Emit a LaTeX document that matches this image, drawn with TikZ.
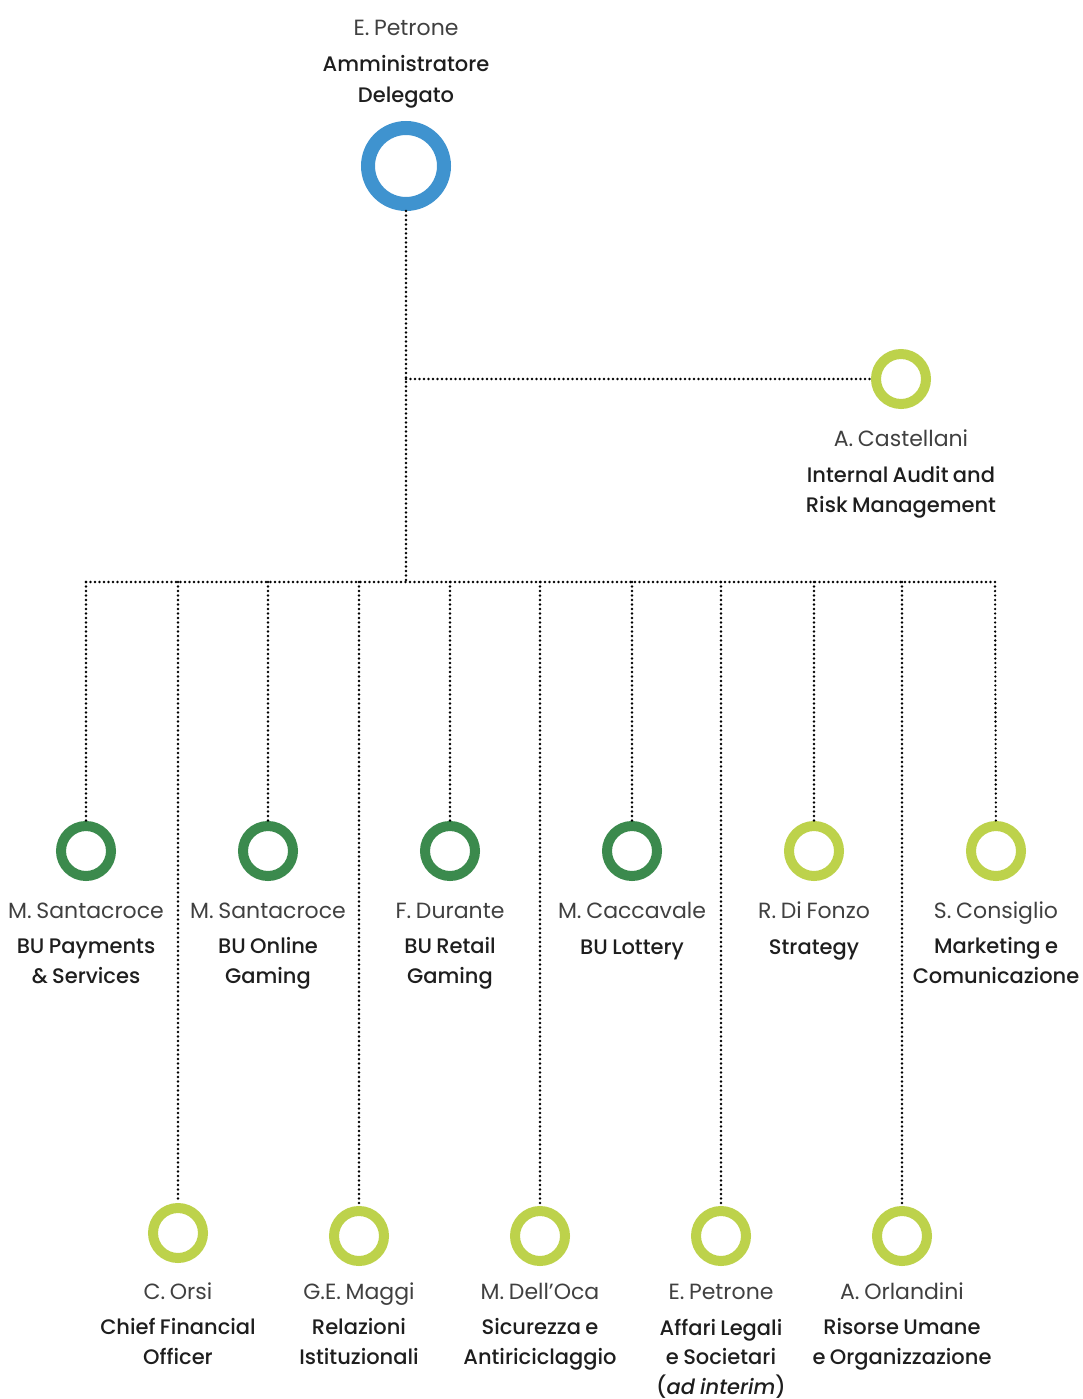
\documentclass[tikz,border=0pt]{standalone}
\usepackage{fontspec}
\setmainfont{Poppins}[BoldFont={Poppins Medium},ItalicFont={Poppins Italic},BoldItalicFont={Poppins Medium Italic},WordSpace=0.8]
\definecolor{ringblue}{HTML}{3F93CF}
\definecolor{ringdark}{HTML}{3B8A4D}
\definecolor{ringlight}{HTML}{BDD24B}
\definecolor{nametext}{HTML}{404040}
\definecolor{titletext}{HTML}{1E1E1E}
\begin{document}
\begin{tikzpicture}[x=1pt,y=-1pt,
  bigring/.style={circle,draw=ringblue,line width=14pt,minimum size=76pt,inner sep=0pt},
  darkring/.style={circle,draw=ringdark,line width=10pt,minimum size=50pt,inner sep=0pt},
  lightring/.style={circle,draw=ringlight,line width=10pt,minimum size=50pt,inner sep=0pt},
  link/.style={line width=2.6pt,line cap=round,dash pattern=on 0pt off 4.5pt,black},
  nm/.style={anchor=base,inner sep=0pt,font=\fontsize{22}{29}\selectfont,text=nametext},
  tt/.style={anchor=base,inner sep=0pt,align=center,font=\fontsize{21}{29.5}\selectfont\bfseries,text=titletext}]
\useasboundingbox (0,0) rectangle (1082,1399);

% top (multi-line nodes are anchored at the baseline of their last line)
\node[nm] (ceoname) at (406,36) {E. Petrone};
\node[tt,font=\fontsize{21}{31}\selectfont\bfseries] (ceotitle) at (406,103) {Amministratore\\Delegato};
\node[bigring] (ceo) at (406,166) {};

% audit
\node[lightring] (audit) at (901,379) {};
\node[nm] (auditname) at (901,446) {A. Castellani};
\node[tt] (audittitle) at (901,512) {Internal Audit and\\Risk Management};
\coordinate (ja) at (406,379);

% bus
\coordinate (jb) at (406,582);
\coordinate (bl) at (86,582);
\coordinate (br) at (995,582);

% upper row
\node[darkring] (u1) at (86,851) {};
\node[darkring] (u2) at (268,851) {};
\node[darkring] (u3) at (450,851) {};
\node[darkring] (u4) at (632,851) {};
\node[lightring] (u5) at (814,851) {};
\node[lightring] (u6) at (996,851) {};
\foreach \n/\x in {u1/86,u2/268,u3/450,u4/632,u5/814,u6/995}{\coordinate (t\n) at (\x,582);}

\node[nm] (u1n) at (86,918) {M. Santacroce};
\node[tt] (u1t) at (86,983) {BU Payments\\\& Services};
\node[nm] (u2n) at (268,918) {M. Santacroce};
\node[tt] (u2t) at (268,983) {BU Online\\Gaming};
\node[nm] (u3n) at (450,918) {F. Durante};
\node[tt] (u3t) at (450,983) {BU Retail\\Gaming};
\node[nm] (u4n) at (632,918) {M. Caccavale};
\node[tt] (u4t) at (632,954) {BU Lottery};
\node[nm] (u5n) at (814,918) {R. Di Fonzo};
\node[tt] (u5t) at (814,954) {Strategy};
\node[nm] (u6n) at (996,918) {S. Consiglio};
\node[tt] (u6t) at (996,983) {Marketing e\\Comunicazione};

% lower row
\node[lightring] (l1) at (178,1233) {};
\node[lightring] (l2) at (359,1236) {};
\node[lightring] (l3) at (540,1236) {};
\node[lightring] (l4) at (721,1236) {};
\node[lightring] (l5) at (902,1236) {};
\foreach \n/\x in {l1/178,l2/359,l3/540,l4/721,l5/902}{\coordinate (t\n) at (\x,582);}

\node[nm] (l1n) at (178,1299) {C. Orsi};
\node[tt] (l1t) at (178,1364) {Chief Financial\\Officer};
\node[nm] (l2n) at (359,1299) {G.E. Maggi};
\node[tt] (l2t) at (359,1364) {Relazioni\\Istituzionali};
\node[nm] (l3n) at (540,1299) {M. Dell’Oca};
\node[tt] (l3t) at (540,1364) {Sicurezza e\\Antiriciclaggio};
\node[nm] (l4n) at (721,1299) {E. Petrone};
\node[tt] (l4t) at (721,1394) {Affari Legali\\e Societari\\(\textit{ad interim})};
\node[nm] (l5n) at (902,1299) {A. Orlandini};
\node[tt] (l5t) at (902,1364) {Risorse Umane\\e Organizzazione};

% connectors
\draw[link] (ceo) -- (jb);
\draw[link] (ja) -- (audit);
\draw[link] (bl) -- (br);
\foreach \n in {u1,u2,u3,u4,u5,u6,l1,l2,l3,l4,l5}{\draw[link] (t\n) -- (\n);}
\end{tikzpicture}
\end{document}
